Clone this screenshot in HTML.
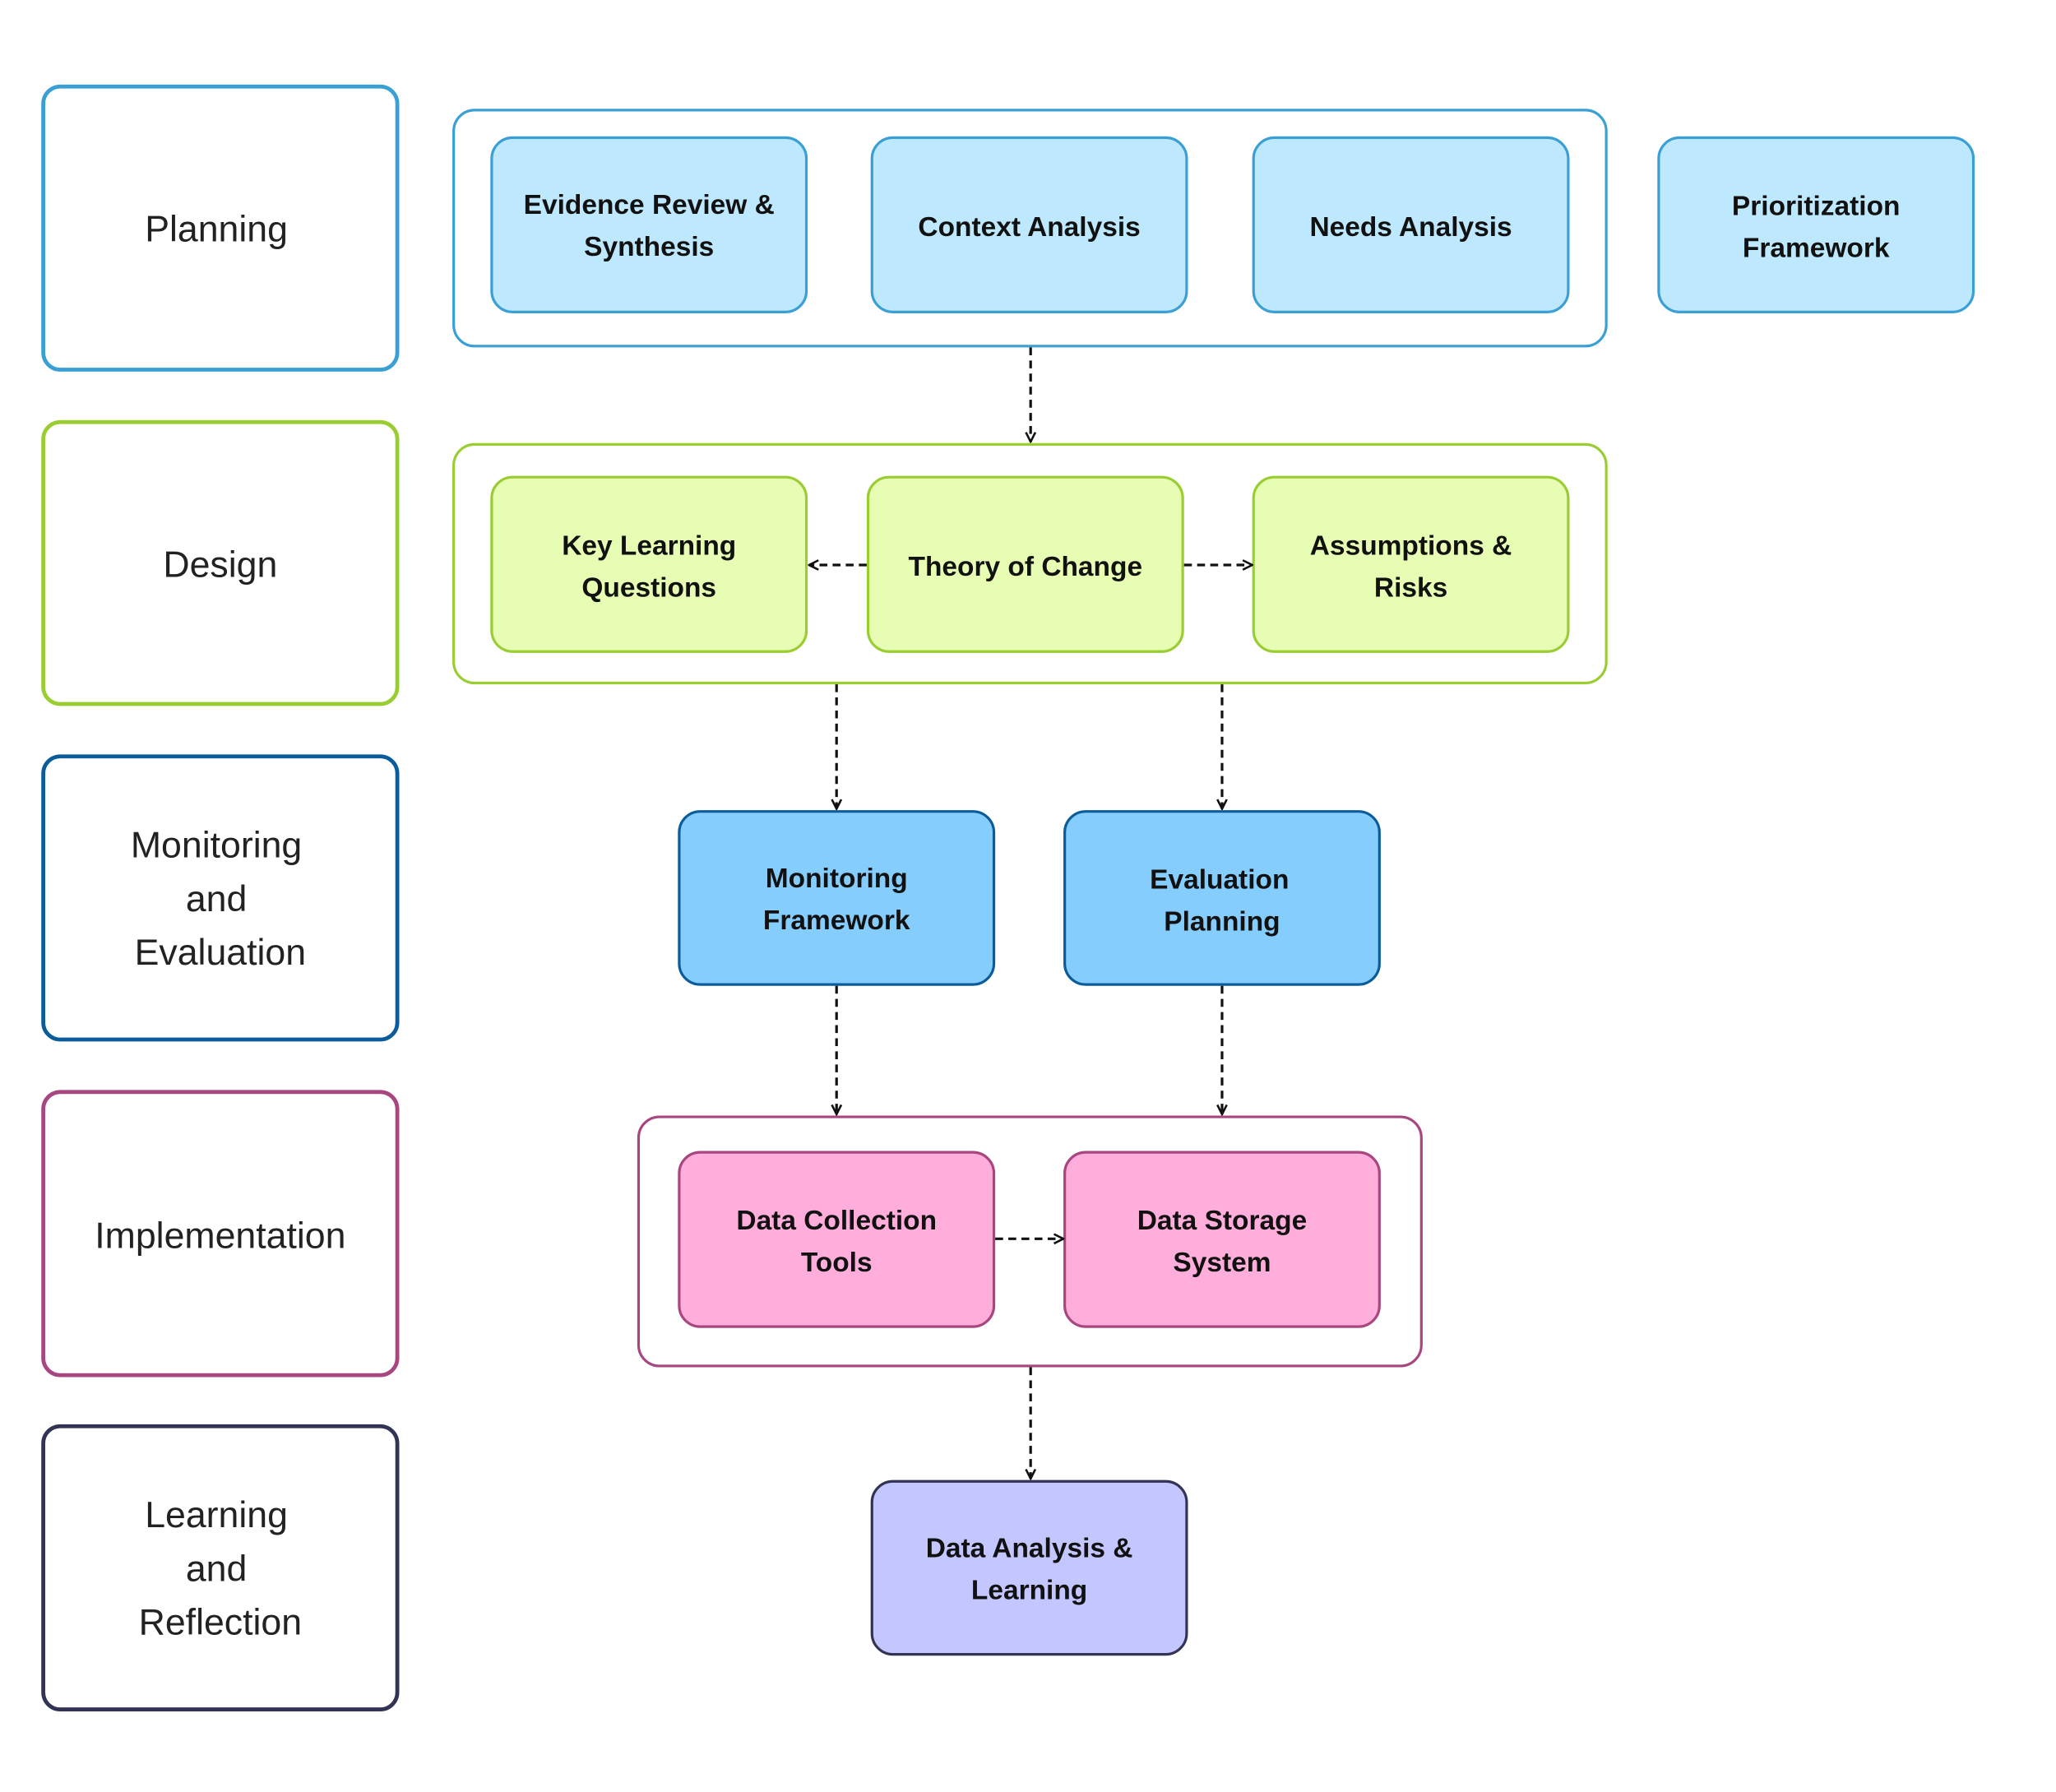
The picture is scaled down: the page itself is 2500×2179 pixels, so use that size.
<!DOCTYPE html>
<html><head><meta charset="utf-8"><style>
html,body{margin:0;padding:0;background:#fff;}
svg{display:block;}
.lab{font-family:"Liberation Sans",sans-serif;font-size:28px;fill:#222;text-anchor:middle;}
.nd{font-family:"Liberation Sans",sans-serif;font-size:21px;font-weight:bold;fill:#111;text-anchor:middle;}
</style></head><body>
<svg width="2500" height="2179" viewBox="0 0 1568 1367" preserveAspectRatio="none" xmlns="http://www.w3.org/2000/svg">
<defs>
<marker id="a" viewBox="0 0 10 10" refX="9" refY="5" markerWidth="9" markerHeight="9" orient="auto" markerUnits="userSpaceOnUse">
<path d="M1,1 L9,5 L1,9" fill="none" stroke="#111" stroke-width="1.8"/></marker>
</defs>
<g fill="#fff" stroke-width="3">
<rect x="33" y="66" width="270" height="216" rx="13" stroke="#3a9fd4"/>
<rect x="33" y="322" width="270" height="215" rx="13" stroke="#9acd32"/>
<rect x="33" y="577" width="270" height="216" rx="13" stroke="#0a5c9b"/>
<rect x="33" y="833" width="270" height="216" rx="13" stroke="#a8467f"/>
<rect x="33" y="1088" width="270" height="216" rx="13" stroke="#333355"/>
</g>
<text class="lab" x="165" y="184">Planning</text>
<text class="lab" x="168" y="440">Design</text>
<text class="lab" x="165" y="654">Monitoring</text>
<text class="lab" x="165" y="695">and</text>
<text class="lab" x="168" y="736">Evaluation</text>
<text class="lab" x="168" y="952">Implementation</text>
<text class="lab" x="165" y="1165">Learning</text>
<text class="lab" x="165" y="1206">and</text>
<text class="lab" x="168" y="1247">Reflection</text>
<g fill="#fff" stroke-width="2">
<rect x="346" y="84" width="879" height="180" rx="16" stroke="#3a9fd4"/>
<rect x="346" y="339" width="879" height="182" rx="16" stroke="#9acd32"/>
<rect x="487" y="852" width="597" height="190" rx="16" stroke="#a8467f"/>
</g>
<g stroke-width="2">
<g fill="#bde8fd" stroke="#3a9fd4">
<rect x="375" y="105" width="240" height="133" rx="16"/>
<rect x="665" y="105" width="240" height="133" rx="16"/>
<rect x="956" y="105" width="240" height="133" rx="16"/>
<rect x="1265" y="105" width="240" height="133" rx="16"/>
</g>
<g fill="#e6fdb3" stroke="#9acd32">
<rect x="375" y="364" width="240" height="133" rx="16"/>
<rect x="662" y="364" width="240" height="133" rx="16"/>
<rect x="956" y="364" width="240" height="133" rx="16"/>
</g>
<g fill="#85cdfd" stroke="#0a5c9b">
<rect x="518" y="619" width="240" height="132" rx="16"/>
<rect x="812" y="619" width="240" height="132" rx="16"/>
</g>
<g fill="#ffaedc" stroke="#a8467f">
<rect x="518" y="879" width="240" height="133" rx="16"/>
<rect x="812" y="879" width="240" height="133" rx="16"/>
</g>
<rect x="665" y="1130" width="240" height="132" rx="16" fill="#c4c6ff" stroke="#333355"/>
</g>
<text class="nd" x="495" y="163">Evidence Review &amp;</text>
<text class="nd" x="495" y="195">Synthesis</text>
<text class="nd" x="785" y="180">Context Analysis</text>
<text class="nd" x="1076" y="180">Needs Analysis</text>
<text class="nd" x="1385" y="164">Prioritization</text>
<text class="nd" x="1385" y="196">Framework</text>
<text class="nd" x="495" y="423">Key Learning</text>
<text class="nd" x="495" y="455">Questions</text>
<text class="nd" x="782" y="439">Theory of Change</text>
<text class="nd" x="1076" y="423">Assumptions &amp;</text>
<text class="nd" x="1076" y="455">Risks</text>
<text class="nd" x="638" y="677">Monitoring</text>
<text class="nd" x="638" y="709">Framework</text>
<text class="nd" x="930" y="678">Evaluation</text>
<text class="nd" x="932" y="710">Planning</text>
<text class="nd" x="638" y="938">Data Collection</text>
<text class="nd" x="638" y="970">Tools</text>
<text class="nd" x="932" y="938">Data Storage</text>
<text class="nd" x="932" y="970">System</text>
<text class="nd" x="785" y="1188">Data Analysis &amp;</text>
<text class="nd" x="785" y="1220">Learning</text>
<g stroke="#111" stroke-width="2" stroke-dasharray="6,4" fill="none" marker-end="url(#a)">
<line x1="786" y1="265" x2="786" y2="337"/>
<line x1="638" y1="522" x2="638" y2="617"/>
<line x1="932" y1="522" x2="932" y2="617"/>
<line x1="638" y1="752" x2="638" y2="850"/>
<line x1="932" y1="752" x2="932" y2="850"/>
<line x1="786" y1="1043" x2="786" y2="1128"/>
<line x1="661" y1="431" x2="617" y2="431"/>
<line x1="903" y1="431" x2="955" y2="431"/>
<line x1="759" y1="945" x2="811" y2="945"/>
</g>
</svg>
</body></html>
